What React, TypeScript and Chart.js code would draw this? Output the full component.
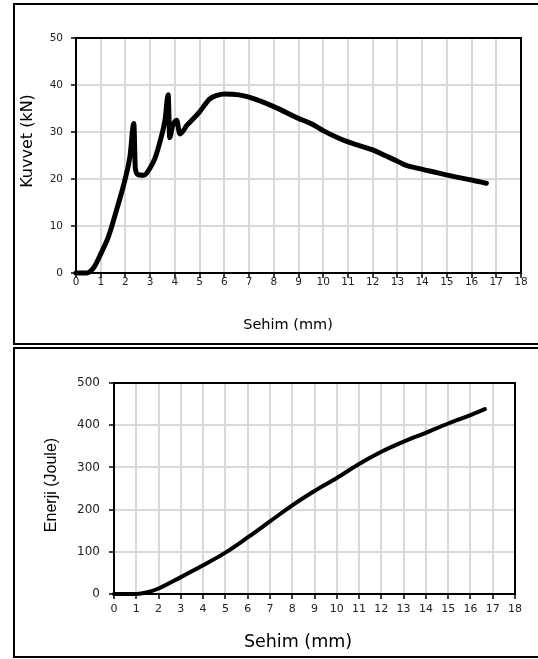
import React, { useEffect, useRef } from 'react';
import { Chart, registerables } from 'chart.js';
Chart.register(...registerables);

// Kuvvet - Sehim
const forceX = [0, 0.43, 0.7, 1.04, 1.31, 1.64, 1.98, 2.18, 2.34, 2.4, 2.52, 2.75, 3.0, 3.2, 3.4, 3.6, 3.73, 3.79, 3.9, 4.07, 4.2, 4.5, 5.0, 5.4, 5.7, 6.0, 6.6, 7.0, 8.0, 9.0, 9.5, 10.0, 10.5, 11.0, 11.4, 12.0, 12.5, 13.0, 13.3, 13.8, 14.3, 15.3, 16.0, 16.6];
const forceY = [0, 0, 1, 4.5, 7.7, 13.4, 19.8, 24.7, 31.8, 22.2, 20.9, 20.8, 22.4, 24.5, 28, 32.5, 37.9, 28.8, 31.2, 32.5, 29.6, 31.5, 34.3, 37, 37.8, 38.1, 37.9, 37.4, 35.4, 32.9, 31.8, 30.3, 29, 27.9, 27.2, 26.2, 25, 23.8, 23.0, 22.3, 21.7, 20.5, 19.8, 19.1];

// Enerji - Sehim
const energyX = [0, 1, 1.5, 2, 3, 4, 5, 6, 7, 8, 9, 10, 11, 12, 13, 14, 15, 16, 16.65];
const energyY = [0, 0, 4, 13, 40, 68, 98, 134, 172, 210, 244, 275, 308, 337, 361, 382, 404, 424, 438];

const xMin = 0, xMax = 18, xStep = 1;
const forceMax = 50, forceStep = 10;
const energyMax = 500, energyStep = 100;
const xTitle = 'Sehim (mm)';
const forceTitle = 'Kuvvet (kN)';
const energyTitle = 'Enerji (Joule)';

const frame = {
  id: 'frame',
  afterDraw(chart: any) {
    const { ctx, chartArea: a } = chart;
    ctx.save();
    ctx.strokeStyle = '#000';
    ctx.lineWidth = 2;
    ctx.beginPath();
    ctx.moveTo(a.left, a.top);
    ctx.lineTo(a.right, a.top);
    ctx.lineTo(a.right, a.bottom);
    ctx.stroke();
    ctx.restore();
  },
};

function titlePlugin(o: any) {
  return {
    id: 'axisTitles',
    afterDraw(chart: any) {
      const { ctx } = chart;
      ctx.save();
      ctx.fillStyle = '#000';
      ctx.textAlign = 'center';
      ctx.textBaseline = 'middle';
      ctx.font = `${o.xtFont}px "DejaVu Sans"`;
      ctx.fillText(xTitle, o.xtX, o.xtY);
      ctx.translate(o.ytX, o.ytY);
      ctx.rotate(-Math.PI / 2);
      ctx.font = `${o.ytFont}px "${o.ytFamily}"`;
      ctx.fillText(o.yTitle, 0, 0);
      ctx.restore();
    },
  };
}

function makeConfig(xs: number[], ys: number[], o: any) {
  return {
    type: 'line',
    data: {
      datasets: [{
        data: xs.map((x, i) => ({ x, y: ys[i] })),
        borderColor: '#000',
        borderWidth: o.lw,
        pointRadius: 0,
        cubicInterpolationMode: 'monotone',
        borderCapStyle: 'round',
        borderJoinStyle: 'round',
        clip: false,
        fill: false,
      }],
    },
    options: {
      animation: false,
      responsive: false,
      devicePixelRatio: 1,
      layout: { padding: { top: o.padTop, right: o.padRight, left: 0, bottom: 0 } },
      plugins: { legend: { display: false }, tooltip: { enabled: false } },
      scales: {
        x: {
          type: 'linear', min: xMin, max: xMax,
          afterFit: (s: any) => { s.height = o.xH; },
          ticks: { stepSize: xStep, color: '#222', padding: o.xPad, maxRotation: 0, autoSkip: false,
            font: { family: 'DejaVu Sans', size: o.xFont } },
          grid: { color: '#d9d9d9', lineWidth: 2, tickColor: '#000', tickLength: 5, tickWidth: 1.5 },
          border: { color: '#000', width: 2 },
        },
        y: {
          type: 'linear', min: 0, max: o.yMax,
          afterFit: (s: any) => { s.width = o.yW; },
          ticks: { stepSize: o.yStep, color: '#222', padding: o.yPad,
            font: { family: 'DejaVu Sans', size: o.yFont } },
          grid: { color: '#d9d9d9', lineWidth: 2, tickColor: '#000', tickLength: 5, tickWidth: 1.5 },
          border: { color: '#000', width: 2 },
        },
      },
    },
    plugins: [frame, titlePlugin(o)],
  } as any;
}

function ChartCanvas({ cfg, w, h }: { cfg: any; w: number; h: number }) {
  const ref = useRef<HTMLCanvasElement>(null);
  useEffect(() => {
    const c = new Chart(ref.current as HTMLCanvasElement, cfg);
    return () => c.destroy();
  }, []);
  return <canvas ref={ref} width={w} height={h} style={{ width: w, height: h, display: 'block' }} />;
}

export default function App() {
  const top = makeConfig(forceX, forceY, {
    lw: 5, padTop: 33, padRight: 17, xH: 70, yW: 61, xPad: -2, yPad: 8, xFont: 10.5, yFont: 10.5,
    yMax: forceMax, yStep: forceStep, yTitle: forceTitle,
    xtFont: 14.5, xtX: 273, xtY: 320,
    ytFamily: 'DejaVu Sans', ytFont: 16, ytX: 13, ytY: 136,
  });
  const bottom = makeConfig(energyX, energyY, {
    lw: 4, padTop: 34, padRight: 23, xH: 62, yW: 99, xPad: 4, yPad: 9, xFont: 11, yFont: 12,
    yMax: energyMax, yStep: energyStep, yTitle: energyTitle,
    xtFont: 17.5, xtX: 283, xtY: 293,
    ytFamily: 'Liberation Sans', ytFont: 16, ytX: 37, ytY: 136,
  });
  return (
    <div style={{ position: 'absolute', left: 0, top: 0, width: 538, height: 659, overflow: 'hidden', background: '#fff' }}>
      <div style={{ position: 'absolute', left: 13, top: 3, width: 540, height: 342, border: '2px solid #000', boxSizing: 'border-box' }} />
      <div style={{ position: 'absolute', left: 13, top: 347, width: 540, height: 311, border: '2px solid #000', boxSizing: 'border-box' }} />
      <div style={{ position: 'absolute', left: 15, top: 5 }}>
        <ChartCanvas cfg={top} w={523} h={338} />
      </div>
      <div style={{ position: 'absolute', left: 15, top: 349 }}>
        <ChartCanvas cfg={bottom} w={523} h={307} />
      </div>
    </div>
  );
}
